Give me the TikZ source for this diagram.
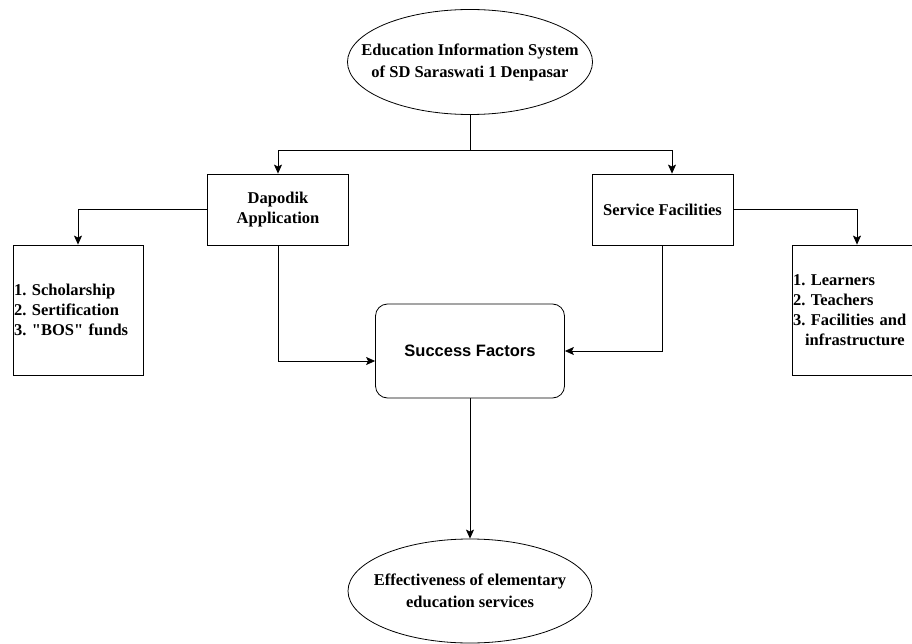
\documentclass[tikz,border=0pt]{standalone}
\usepackage{fontspec}
\setmainfont{Liberation Serif}
\setsansfont{Liberation Sans}
\usetikzlibrary{shapes.geometric,arrows.meta}
\frenchspacing

\begin{document}
\begin{tikzpicture}[x=1pt,y=-1pt,
   line width=0.8pt,
   arr/.style={-{Stealth[length=9pt,width=8pt,inset=2pt]}},
   oval/.style={draw, ellipse, inner xsep=-22pt, inner ysep=0pt, align=center, font=\fontsize{16.5}{22}\selectfont\bfseries},
   block/.style={draw, rectangle, inner sep=0pt, align=center, minimum width=141pt, minimum height=71pt, font=\fontsize{16.5}{20}\selectfont\bfseries},
   listbox/.style={draw, rectangle, inner sep=1pt, text width=128pt, align=left, minimum height=130pt, font=\fontsize{16.5}{20}\selectfont\bfseries}]

   \useasboundingbox (0,0) rectangle (912,644);

   \node[oval, minimum width=245pt, minimum height=105pt] (eis) at (470,62) {Education Information System\\of SD Saraswati 1 Denpasar};
   \node[block] (dap) at (278,209.5) {Dapodik\\Application};
   \node[block] (svc) at (662.5,209.5) {Service Facilities};
   \node[listbox] (lsta) at (78,310) {1. Scholarship\\2. Sertification\\3. \textquotedbl BOS\textquotedbl{} funds};
   \node[listbox] (lstb) at (857,310) {1. Learners\\2. Teachers\\3. Facilities and\\\hspace*{12pt}infrastructure};
   \node[draw, rounded corners=12pt, minimum width=189pt, minimum height=94pt, font=\fontsize{16.5}{20}\sffamily\bfseries] (succ) at (470,351) {Success Factors};
   \node[oval, minimum width=244pt, minimum height=104pt] (eff) at (470,591) {Effectiveness of elementary\\education services};

   \coordinate (split) at (470,150);

   \draw (eis.south) -- (split);
   \draw[arr] (split) -| (dap.north);
   \draw[arr] (split) -| ([xshift=9.5pt]svc.north);

   \draw[arr] (dap.west) -| (lsta.north);
   \draw[arr] (svc.east) -| (lstb.north);

   \draw[arr] (dap.south) |- ([yshift=-10pt]succ.west);
   \draw[arr] (svc.south) |- (succ.east);

   \draw[arr] (succ.south) -- (eff.north);

\end{tikzpicture}
\end{document}
